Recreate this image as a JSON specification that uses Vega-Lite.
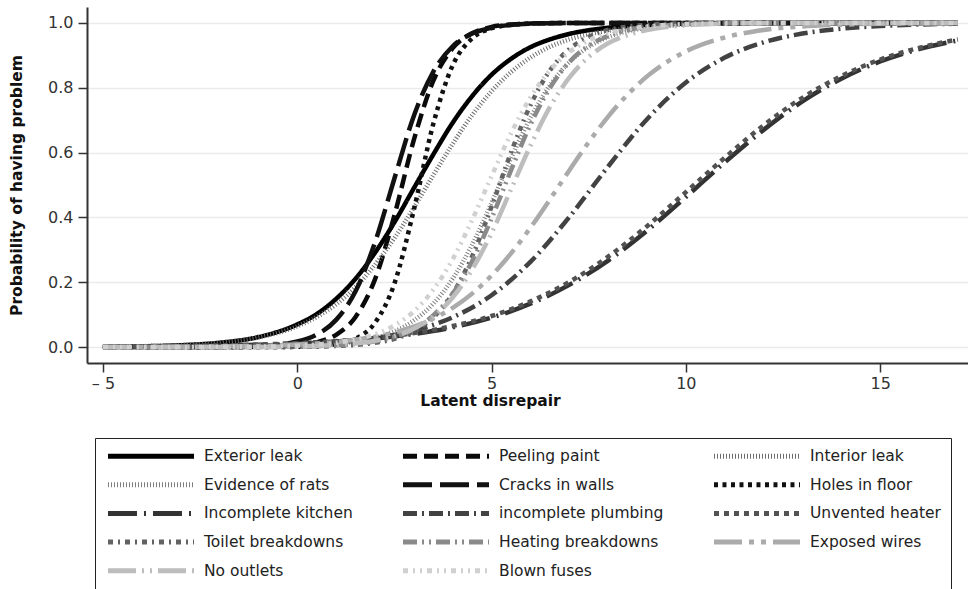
{
  "$schema": "https://vega.github.io/schema/vega-lite/v6.json",
  "autosize": "none",
  "width": 881,
  "height": 356,
  "padding": {"left": 87, "top": 7, "right": 0, "bottom": 226},
  "background": "white",
  "config": {
    "view": {"stroke": null},
    "axis": {
      "labelFont": "DejaVu Sans",
      "labelFontSize": 16,
      "labelColor": "#333",
      "titleFont": "DejaVu Sans",
      "titleFontSize": 15.5,
      "titleFontWeight": "bold",
      "titleColor": "#111",
      "domainColor": "#333",
      "domainWidth": 2,
      "tickColor": "#333",
      "tickWidth": 1.5,
      "tickSize": 9,
      "gridColor": "#ebebeb",
      "gridWidth": 1.5
    },
    "legend": {
      "orient": "none",
      "legendX": 8,
      "legendY": 431,
      "direction": "horizontal",
      "columns": 3,
      "symbolType": "stroke",
      "symbolSize": 7400,
      "symbolStrokeWidth": 5,
      "clipHeight": 16,
      "labelFont": "DejaVu Sans",
      "labelFontSize": 15.5,
      "labelColor": "#222",
      "labelOffset": 7,
      "labelLimit": 300,
      "columnPadding": 47,
      "rowPadding": 11.7,
      "padding": 10,
      "strokeColor": "#222",
      "title": null
    }
  },
  "data": {
    "values": [
      {"s":"Exterior leak","x":-5,"y":0.0011},{"s":"Exterior leak","x":-4,"y":0.0025},{"s":"Exterior leak","x":-3,"y":0.0058},{"s":"Exterior leak","x":-2,"y":0.0135},{"s":"Exterior leak","x":-1,"y":0.031},{"s":"Exterior leak","x":0,"y":0.07},{"s":"Exterior leak","x":0.5,"y":0.102},{"s":"Exterior leak","x":1,"y":0.149},{"s":"Exterior leak","x":1.5,"y":0.211},{"s":"Exterior leak","x":2,"y":0.291},{"s":"Exterior leak","x":2.5,"y":0.385},{"s":"Exterior leak","x":3,"y":0.49},{"s":"Exterior leak","x":3.5,"y":0.594},{"s":"Exterior leak","x":4,"y":0.692},{"s":"Exterior leak","x":4.5,"y":0.774},{"s":"Exterior leak","x":5,"y":0.84},{"s":"Exterior leak","x":5.5,"y":0.889},{"s":"Exterior leak","x":6,"y":0.925},{"s":"Exterior leak","x":6.5,"y":0.949},{"s":"Exterior leak","x":7,"y":0.966},{"s":"Exterior leak","x":8,"y":0.985},{"s":"Exterior leak","x":9,"y":0.9937},{"s":"Exterior leak","x":10,"y":0.9973},{"s":"Exterior leak","x":12,"y":0.9995},{"s":"Exterior leak","x":14,"y":0.9999},{"s":"Exterior leak","x":17,"y":1.0},

      {"s":"Peeling paint","x":-5,"y":0},{"s":"Peeling paint","x":-2,"y":0.0001},{"s":"Peeling paint","x":-1,"y":0.0009},{"s":"Peeling paint","x":0,"y":0.0059},{"s":"Peeling paint","x":0.5,"y":0.015},{"s":"Peeling paint","x":1,"y":0.038},{"s":"Peeling paint","x":1.5,"y":0.093},{"s":"Peeling paint","x":2,"y":0.209},{"s":"Peeling paint","x":2.5,"y":0.406},{"s":"Peeling paint","x":3,"y":0.639},{"s":"Peeling paint","x":3.5,"y":0.821},{"s":"Peeling paint","x":4,"y":0.922},{"s":"Peeling paint","x":4.5,"y":0.968},{"s":"Peeling paint","x":5,"y":0.9876},{"s":"Peeling paint","x":5.5,"y":0.995},{"s":"Peeling paint","x":6,"y":0.998},{"s":"Peeling paint","x":7,"y":0.9997},{"s":"Peeling paint","x":8,"y":1.0},{"s":"Peeling paint","x":17,"y":1.0},

      {"s":"Interior leak","x":-5,"y":0.0013},{"s":"Interior leak","x":-4,"y":0.0028},{"s":"Interior leak","x":-3,"y":0.0062},{"s":"Interior leak","x":-2,"y":0.0137},{"s":"Interior leak","x":-1,"y":0.03},{"s":"Interior leak","x":0,"y":0.064},{"s":"Interior leak","x":0.5,"y":0.093},{"s":"Interior leak","x":1,"y":0.132},{"s":"Interior leak","x":1.5,"y":0.185},{"s":"Interior leak","x":2,"y":0.254},{"s":"Interior leak","x":2.5,"y":0.336},{"s":"Interior leak","x":3,"y":0.43},{"s":"Interior leak","x":3.5,"y":0.53},{"s":"Interior leak","x":4,"y":0.627},{"s":"Interior leak","x":4.5,"y":0.715},{"s":"Interior leak","x":5,"y":0.789},{"s":"Interior leak","x":5.5,"y":0.848},{"s":"Interior leak","x":6,"y":0.893},{"s":"Interior leak","x":6.5,"y":0.926},{"s":"Interior leak","x":7,"y":0.949},{"s":"Interior leak","x":8,"y":0.976},{"s":"Interior leak","x":9,"y":0.989},{"s":"Interior leak","x":10,"y":0.995},{"s":"Interior leak","x":12,"y":0.999},{"s":"Interior leak","x":14,"y":0.9998},{"s":"Interior leak","x":17,"y":1.0},

      {"s":"Evidence of rats","x":-5,"y":0},{"s":"Evidence of rats","x":-2,"y":0.0004},{"s":"Evidence of rats","x":-1,"y":0.0011},{"s":"Evidence of rats","x":0,"y":0.0033},{"s":"Evidence of rats","x":1,"y":0.0098},{"s":"Evidence of rats","x":1.5,"y":0.0168},{"s":"Evidence of rats","x":2,"y":0.0287},{"s":"Evidence of rats","x":2.5,"y":0.0488},{"s":"Evidence of rats","x":3,"y":0.082},{"s":"Evidence of rats","x":3.5,"y":0.134},{"s":"Evidence of rats","x":4,"y":0.211},{"s":"Evidence of rats","x":4.5,"y":0.316},{"s":"Evidence of rats","x":5,"y":0.445},{"s":"Evidence of rats","x":5.5,"y":0.582},{"s":"Evidence of rats","x":6,"y":0.707},{"s":"Evidence of rats","x":6.5,"y":0.807},{"s":"Evidence of rats","x":7,"y":0.879},{"s":"Evidence of rats","x":7.5,"y":0.926},{"s":"Evidence of rats","x":8,"y":0.956},{"s":"Evidence of rats","x":8.5,"y":0.974},{"s":"Evidence of rats","x":9,"y":0.985},{"s":"Evidence of rats","x":10,"y":0.995},{"s":"Evidence of rats","x":11,"y":0.9983},{"s":"Evidence of rats","x":12,"y":0.9994},{"s":"Evidence of rats","x":14,"y":1.0},{"s":"Evidence of rats","x":17,"y":1.0},

      {"s":"Cracks in walls","x":-5,"y":0},{"s":"Cracks in walls","x":-3,"y":0.0001},{"s":"Cracks in walls","x":-2,"y":0.0006},{"s":"Cracks in walls","x":-1,"y":0.0034},{"s":"Cracks in walls","x":0,"y":0.0173},{"s":"Cracks in walls","x":0.5,"y":0.0385},{"s":"Cracks in walls","x":1,"y":0.084},{"s":"Cracks in walls","x":1.5,"y":0.172},{"s":"Cracks in walls","x":2,"y":0.323},{"s":"Cracks in walls","x":2.5,"y":0.52},{"s":"Cracks in walls","x":3,"y":0.713},{"s":"Cracks in walls","x":3.5,"y":0.849},{"s":"Cracks in walls","x":4,"y":0.928},{"s":"Cracks in walls","x":4.5,"y":0.967},{"s":"Cracks in walls","x":5,"y":0.985},{"s":"Cracks in walls","x":5.5,"y":0.9935},{"s":"Cracks in walls","x":6,"y":0.9972},{"s":"Cracks in walls","x":7,"y":0.9995},{"s":"Cracks in walls","x":8,"y":0.9999},{"s":"Cracks in walls","x":17,"y":1.0},

      {"s":"Holes in floor","x":-5,"y":0},{"s":"Holes in floor","x":-1,"y":0.0001},{"s":"Holes in floor","x":0,"y":0.001},{"s":"Holes in floor","x":0.5,"y":0.003},{"s":"Holes in floor","x":1,"y":0.0089},{"s":"Holes in floor","x":1.5,"y":0.026},{"s":"Holes in floor","x":2,"y":0.075},{"s":"Holes in floor","x":2.5,"y":0.196},{"s":"Holes in floor","x":3,"y":0.423},{"s":"Holes in floor","x":3.5,"y":0.688},{"s":"Holes in floor","x":4,"y":0.869},{"s":"Holes in floor","x":4.5,"y":0.952},{"s":"Holes in floor","x":5,"y":0.9835},{"s":"Holes in floor","x":5.5,"y":0.9944},{"s":"Holes in floor","x":6,"y":0.9981},{"s":"Holes in floor","x":7,"y":0.9998},{"s":"Holes in floor","x":8,"y":1.0},{"s":"Holes in floor","x":17,"y":1.0},

      {"s":"Incomplete kitchen","x":-5,"y":0.0014},{"s":"Incomplete kitchen","x":-4,"y":0.0021},{"s":"Incomplete kitchen","x":-3,"y":0.0032},{"s":"Incomplete kitchen","x":-2,"y":0.0049},{"s":"Incomplete kitchen","x":-1,"y":0.0075},{"s":"Incomplete kitchen","x":0,"y":0.0115},{"s":"Incomplete kitchen","x":1,"y":0.0176},{"s":"Incomplete kitchen","x":2,"y":0.0269},{"s":"Incomplete kitchen","x":3,"y":0.0407},{"s":"Incomplete kitchen","x":4,"y":0.061},{"s":"Incomplete kitchen","x":5,"y":0.091},{"s":"Incomplete kitchen","x":6,"y":0.134},{"s":"Incomplete kitchen","x":7,"y":0.192},{"s":"Incomplete kitchen","x":8,"y":0.267},{"s":"Incomplete kitchen","x":9,"y":0.359},{"s":"Incomplete kitchen","x":10,"y":0.463},{"s":"Incomplete kitchen","x":11,"y":0.57},{"s":"Incomplete kitchen","x":12,"y":0.67},{"s":"Incomplete kitchen","x":13,"y":0.758},{"s":"Incomplete kitchen","x":14,"y":0.828},{"s":"Incomplete kitchen","x":15,"y":0.881},{"s":"Incomplete kitchen","x":16,"y":0.919},{"s":"Incomplete kitchen","x":17,"y":0.946},

      {"s":"incomplete plumbing","x":-5,"y":0.0003},{"s":"incomplete plumbing","x":-4,"y":0.0007},{"s":"incomplete plumbing","x":-3,"y":0.0012},{"s":"incomplete plumbing","x":-2,"y":0.0023},{"s":"incomplete plumbing","x":-1,"y":0.0043},{"s":"incomplete plumbing","x":0,"y":0.0081},{"s":"incomplete plumbing","x":1,"y":0.0151},{"s":"incomplete plumbing","x":2,"y":0.028},{"s":"incomplete plumbing","x":3,"y":0.051},{"s":"incomplete plumbing","x":4,"y":0.092},{"s":"incomplete plumbing","x":5,"y":0.16},{"s":"incomplete plumbing","x":6,"y":0.263},{"s":"incomplete plumbing","x":7,"y":0.401},{"s":"incomplete plumbing","x":8,"y":0.557},{"s":"incomplete plumbing","x":9,"y":0.703},{"s":"incomplete plumbing","x":10,"y":0.816},{"s":"incomplete plumbing","x":11,"y":0.893},{"s":"incomplete plumbing","x":12,"y":0.94},{"s":"incomplete plumbing","x":13,"y":0.967},{"s":"incomplete plumbing","x":14,"y":0.982},{"s":"incomplete plumbing","x":15,"y":0.9905},{"s":"incomplete plumbing","x":16,"y":0.9949},{"s":"incomplete plumbing","x":17,"y":0.9973},

      {"s":"Unvented heater","x":-5,"y":0.0014},{"s":"Unvented heater","x":-4,"y":0.0022},{"s":"Unvented heater","x":-3,"y":0.0034},{"s":"Unvented heater","x":-2,"y":0.0052},{"s":"Unvented heater","x":-1,"y":0.008},{"s":"Unvented heater","x":0,"y":0.0122},{"s":"Unvented heater","x":1,"y":0.0187},{"s":"Unvented heater","x":2,"y":0.0285},{"s":"Unvented heater","x":3,"y":0.0431},{"s":"Unvented heater","x":4,"y":0.065},{"s":"Unvented heater","x":5,"y":0.096},{"s":"Unvented heater","x":6,"y":0.141},{"s":"Unvented heater","x":7,"y":0.201},{"s":"Unvented heater","x":8,"y":0.279},{"s":"Unvented heater","x":9,"y":0.373},{"s":"Unvented heater","x":10,"y":0.478},{"s":"Unvented heater","x":11,"y":0.584},{"s":"Unvented heater","x":12,"y":0.684},{"s":"Unvented heater","x":13,"y":0.769},{"s":"Unvented heater","x":14,"y":0.836},{"s":"Unvented heater","x":15,"y":0.887},{"s":"Unvented heater","x":16,"y":0.923},{"s":"Unvented heater","x":17,"y":0.949},

      {"s":"Toilet breakdowns","x":-5,"y":0},{"s":"Toilet breakdowns","x":-1,"y":0.0002},{"s":"Toilet breakdowns","x":0,"y":0.0009},{"s":"Toilet breakdowns","x":1,"y":0.0034},{"s":"Toilet breakdowns","x":1.5,"y":0.0067},{"s":"Toilet breakdowns","x":2,"y":0.0131},{"s":"Toilet breakdowns","x":2.5,"y":0.0253},{"s":"Toilet breakdowns","x":3,"y":0.0488},{"s":"Toilet breakdowns","x":3.5,"y":0.091},{"s":"Toilet breakdowns","x":4,"y":0.165},{"s":"Toilet breakdowns","x":4.5,"y":0.28},{"s":"Toilet breakdowns","x":5,"y":0.433},{"s":"Toilet breakdowns","x":5.5,"y":0.6},{"s":"Toilet breakdowns","x":6,"y":0.746},{"s":"Toilet breakdowns","x":6.5,"y":0.853},{"s":"Toilet breakdowns","x":7,"y":0.919},{"s":"Toilet breakdowns","x":7.5,"y":0.957},{"s":"Toilet breakdowns","x":8,"y":0.978},{"s":"Toilet breakdowns","x":8.5,"y":0.9885},{"s":"Toilet breakdowns","x":9,"y":0.994},{"s":"Toilet breakdowns","x":10,"y":0.9985},{"s":"Toilet breakdowns","x":11,"y":0.9996},{"s":"Toilet breakdowns","x":12,"y":1.0},{"s":"Toilet breakdowns","x":17,"y":1.0},

      {"s":"Heating breakdowns","x":-5,"y":0},{"s":"Heating breakdowns","x":-1,"y":0.0005},{"s":"Heating breakdowns","x":0,"y":0.0016},{"s":"Heating breakdowns","x":1,"y":0.0054},{"s":"Heating breakdowns","x":1.5,"y":0.0098},{"s":"Heating breakdowns","x":2,"y":0.0176},{"s":"Heating breakdowns","x":2.5,"y":0.0317},{"s":"Heating breakdowns","x":3,"y":0.056},{"s":"Heating breakdowns","x":3.5,"y":0.098},{"s":"Heating breakdowns","x":4,"y":0.165},{"s":"Heating breakdowns","x":4.5,"y":0.265},{"s":"Heating breakdowns","x":5,"y":0.397},{"s":"Heating breakdowns","x":5.5,"y":0.545},{"s":"Heating breakdowns","x":6,"y":0.686},{"s":"Heating breakdowns","x":6.5,"y":0.799},{"s":"Heating breakdowns","x":7,"y":0.879},{"s":"Heating breakdowns","x":7.5,"y":0.93},{"s":"Heating breakdowns","x":8,"y":0.96},{"s":"Heating breakdowns","x":8.5,"y":0.978},{"s":"Heating breakdowns","x":9,"y":0.9877},{"s":"Heating breakdowns","x":10,"y":0.9962},{"s":"Heating breakdowns","x":11,"y":0.9989},{"s":"Heating breakdowns","x":12,"y":0.9997},{"s":"Heating breakdowns","x":14,"y":1.0},{"s":"Heating breakdowns","x":17,"y":1.0},

      {"s":"Exposed wires","x":-5,"y":0.0002},{"s":"Exposed wires","x":-4,"y":0.0004},{"s":"Exposed wires","x":-3,"y":0.0009},{"s":"Exposed wires","x":-2,"y":0.0018},{"s":"Exposed wires","x":-1,"y":0.0038},{"s":"Exposed wires","x":0,"y":0.0077},{"s":"Exposed wires","x":1,"y":0.0157},{"s":"Exposed wires","x":2,"y":0.0317},{"s":"Exposed wires","x":2.5,"y":0.045},{"s":"Exposed wires","x":3,"y":0.063},{"s":"Exposed wires","x":3.5,"y":0.088},{"s":"Exposed wires","x":4,"y":0.121},{"s":"Exposed wires","x":4.5,"y":0.165},{"s":"Exposed wires","x":5,"y":0.221},{"s":"Exposed wires","x":5.5,"y":0.289},{"s":"Exposed wires","x":6,"y":0.368},{"s":"Exposed wires","x":6.5,"y":0.455},{"s":"Exposed wires","x":7,"y":0.545},{"s":"Exposed wires","x":7.5,"y":0.632},{"s":"Exposed wires","x":8,"y":0.711},{"s":"Exposed wires","x":9,"y":0.835},{"s":"Exposed wires","x":10,"y":0.912},{"s":"Exposed wires","x":11,"y":0.955},{"s":"Exposed wires","x":12,"y":0.978},{"s":"Exposed wires","x":13,"y":0.989},{"s":"Exposed wires","x":14,"y":0.9946},{"s":"Exposed wires","x":15,"y":0.9974},{"s":"Exposed wires","x":16,"y":0.9987},{"s":"Exposed wires","x":17,"y":0.9994},

      {"s":"No outlets","x":-5,"y":0},{"s":"No outlets","x":-1,"y":0.0007},{"s":"No outlets","x":0,"y":0.0022},{"s":"No outlets","x":1,"y":0.0066},{"s":"No outlets","x":1.5,"y":0.0114},{"s":"No outlets","x":2,"y":0.0197},{"s":"No outlets","x":2.5,"y":0.0336},{"s":"No outlets","x":3,"y":0.057},{"s":"No outlets","x":3.5,"y":0.0945},{"s":"No outlets","x":4,"y":0.153},{"s":"No outlets","x":4.5,"y":0.239},{"s":"No outlets","x":5,"y":0.352},{"s":"No outlets","x":5.5,"y":0.486},{"s":"No outlets","x":6,"y":0.621},{"s":"No outlets","x":6.5,"y":0.74},{"s":"No outlets","x":7,"y":0.831},{"s":"No outlets","x":7.5,"y":0.895},{"s":"No outlets","x":8,"y":0.937},{"s":"No outlets","x":8.5,"y":0.962},{"s":"No outlets","x":9,"y":0.978},{"s":"No outlets","x":10,"y":0.9926},{"s":"No outlets","x":11,"y":0.9975},{"s":"No outlets","x":12,"y":0.9992},{"s":"No outlets","x":14,"y":1.0},{"s":"No outlets","x":17,"y":1.0},

      {"s":"Blown fuses","x":-5,"y":0},{"s":"Blown fuses","x":-1,"y":0.0015},{"s":"Blown fuses","x":0,"y":0.0045},{"s":"Blown fuses","x":1,"y":0.0135},{"s":"Blown fuses","x":1.5,"y":0.0232},{"s":"Blown fuses","x":2,"y":0.0395},{"s":"Blown fuses","x":2.5,"y":0.0666},{"s":"Blown fuses","x":3,"y":0.11},{"s":"Blown fuses","x":3.5,"y":0.177},{"s":"Blown fuses","x":4,"y":0.271},{"s":"Blown fuses","x":4.5,"y":0.392},{"s":"Blown fuses","x":5,"y":0.527},{"s":"Blown fuses","x":5.5,"y":0.659},{"s":"Blown fuses","x":6,"y":0.77},{"s":"Blown fuses","x":6.5,"y":0.853},{"s":"Blown fuses","x":7,"y":0.91},{"s":"Blown fuses","x":7.5,"y":0.946},{"s":"Blown fuses","x":8,"y":0.968},{"s":"Blown fuses","x":8.5,"y":0.981},{"s":"Blown fuses","x":9,"y":0.989},{"s":"Blown fuses","x":10,"y":0.9963},{"s":"Blown fuses","x":11,"y":0.9988},{"s":"Blown fuses","x":12,"y":0.9996},{"s":"Blown fuses","x":14,"y":1.0},{"s":"Blown fuses","x":17,"y":1.0}
    ]
  },
  "mark": {"type": "line", "strokeWidth": 4.5, "interpolate": "monotone", "clip": true},
  "encoding": {
    "x": {
      "field": "x", "type": "quantitative",
      "scale": {"domain": [-5.41, 17.26], "nice": false, "zero": false},
      "axis": {
        "title": "Latent disrepair",
        "values": [-5, 0, 5, 10, 15],
        "grid": false,
        "labelPadding": 3,
        "labelExpr": "datum.value < 0 ? '– ' + (-datum.value) : datum.label",
        "titleX": 403,
        "titleY": 30,
        "titleBaseline": "top"
      }
    },
    "y": {
      "field": "y", "type": "quantitative",
      "scale": {"domain": [-0.049, 1.049], "nice": false, "zero": false},
      "axis": {
        "title": "Probability of having problem",
        "values": [0, 0.2, 0.4, 0.6, 0.8, 1.0],
        "format": ".1f",
        "labelPadding": 5,
        "titleX": -63
      }
    },
    "color": {
      "field": "s", "type": "nominal",
      "scale": {
        "domain": ["Exterior leak","Peeling paint","Interior leak","Evidence of rats","Cracks in walls","Holes in floor","Incomplete kitchen","incomplete plumbing","Unvented heater","Toilet breakdowns","Heating breakdowns","Exposed wires","No outlets","Blown fuses"],
        "range": ["#000000","#0a0a0a","#6e6e6e","#808080","#111111","#111111","#333333","#424242","#525252","#636363","#8a8a8a","#ababab","#bdbdbd","#d0d0d0"]
      }
    },
    "strokeDash": {
      "field": "s", "type": "nominal",
      "scale": {
        "domain": ["Exterior leak","Peeling paint","Interior leak","Evidence of rats","Cracks in walls","Holes in floor","Incomplete kitchen","incomplete plumbing","Unvented heater","Toilet breakdowns","Heating breakdowns","Exposed wires","No outlets","Blown fuses"],
        "range": [[1,0],[14,7],[1,2],[1,2],[29,8],[4,4.5],[29,7,2,7],[14,5,2,5],[5,5],[5,5,2,5],[14,5,2,5,2,5],[28,7,5,7,5,7],[28,6,2,6,2,6],[5,5,2,5,2,5]]
      }
    }
  }
}
